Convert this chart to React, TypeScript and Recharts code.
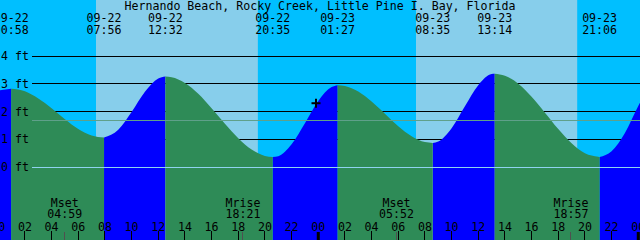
import React from "react";
import { ComposedChart, Area, XAxis, YAxis, ReferenceArea, ReferenceLine, ReferenceDot } from "recharts";

const TITLE = "Hernando Beach, Rocky Creek, Little Pine I. Bay, Florida";

// hours counted from 09-22 00:00, heights in ft
const TIDE_HOURS = [
  0, 0.967, 2, 3, 4, 5, 6, 7, 7.933, 9, 10, 11, 12, 12.533, 13, 14, 15, 16, 17, 18, 19, 20, 20.583,
  21, 22, 23, 24, 25, 25.45, 26, 27, 28, 29, 30, 31, 32, 32.583, 33, 34, 35, 36, 37, 37.233,
  38, 39, 40, 41, 42, 43, 44, 45, 45.1, 46, 47, 48, 48.2,
];
const TIDE_FT = [
  2.76, 2.82, 2.73, 2.47, 2.12, 1.72, 1.37, 1.14, 1.06, 1.34, 1.98, 2.71, 3.19, 3.26, 3.24, 3.03, 2.64, 2.12, 1.56, 1.04, 0.63, 0.4, 0.36,
  0.39, 0.82, 1.58, 2.38, 2.88, 2.95, 2.92, 2.72, 2.36, 1.92, 1.47, 1.11, 0.9, 0.87, 0.92, 1.4, 2.19, 2.95, 3.35, 3.36,
  3.29, 3.0, 2.53, 1.96, 1.37, 0.86, 0.5, 0.37, 0.36, 0.57, 1.23, 2.2, 2.38,
];

const EVENT_HOURS = [0.967, 7.933, 12.533, 20.583, 25.45, 32.583, 37.233, 45.1];
const EVENT_KIND = ["high", "low", "high", "low", "high", "low", "high", "low"];
const EVENT_DATES = ["09-22", "09-22", "09-22", "09-22", "09-23", "09-23", "09-23", "09-23"];
const EVENT_TIMES = ["00:58", "07:56", "12:32", "20:35", "01:27", "08:35", "13:14", "21:06"];

const MOON_HOURS = [4.983, 18.35, 29.867, 42.95];
const MOON_LABELS = ["Mset", "Mrise", "Mset", "Mrise"];
const MOON_TIMES = ["04:59", "18:21", "05:52", "18:57"];

const SUNRISE = [7.33, 31.33];
const SUNSET = [19.47, 43.42];

const HOUR_TICKS = [0, 2, 4, 6, 8, 10, 12, 14, 16, 18, 20, 22, 24, 26, 28, 30, 32, 34, 36, 38, 40, 42, 44, 46, 48];
const FT_TICKS = [0, 1, 2, 3, 4];
const MSL_FT = 1.68;
const NOW_HOUR = 23.83;
const NOW_FT = 2.3;

const X_DOMAIN = [0.13, 48.13];
const Y_DOMAIN = [-2.63, 6.02];

const FONT = "'DejaVu Sans Mono', monospace";
const FS = 11.6;
const GUTTER = 32;

const rows = TIDE_HOURS.map((h, i) => {
  const ft = TIDE_FT[i];
  const atEvent = EVENT_HOURS.includes(h);
  const k = EVENT_HOURS.filter((e) => e < h).length;
  const next = EVENT_KIND[k] ?? (EVENT_KIND[k - 1] === "high" ? "low" : "high");
  const rising = next === "high";
  return { h, ft, rise: atEvent || rising ? ft : null, fall: atEvent || !rising ? ft : null };
});

const txt = { fontFamily: FONT, fontSize: FS, fill: "#000" };

const HourTick = ({ x, payload }: any) => {
  const h = payload.value;
  return (
    <g>
      <text x={x} y={230.5} textAnchor="middle" {...txt}>
        {String(h % 24).padStart(2, "0")}
      </text>
      {h % 24 === 0 ? (
        <rect x={x - 1.5} y={232} width={3} height={8} fill="#000" />
      ) : (
        <line x1={x} x2={x} y1={231} y2={240} stroke="#000" shapeRendering="crispEdges" />
      )}
    </g>
  );
};

const EventTick = ({ x, payload }: any) => {
  const i = EVENT_HOURS.indexOf(payload.value);
  return (
    <g>
      <text x={x} y={21.5} textAnchor="middle" {...txt}>{EVENT_DATES[i]}</text>
      <text x={x} y={34} textAnchor="middle" {...txt}>{EVENT_TIMES[i]}</text>
    </g>
  );
};

const MoonTick = ({ x, payload }: any) => {
  const i = MOON_HOURS.indexOf(payload.value);
  return (
    <g>
      <text x={x} y={206.5} textAnchor="middle" {...txt}>{MOON_LABELS[i]}</text>
      <text x={x} y={218} textAnchor="middle" {...txt}>{MOON_TIMES[i]}</text>
      <line x1={x} x2={x} y1={232} y2={240} stroke="#505050" shapeRendering="crispEdges" />
    </g>
  );
};

const FtTick = ({ y, payload }: any) => (
  <text x={1} y={y + 4} textAnchor="start" {...txt}>{`${payload.value} ft`}</text>
);

// thin horizontal rule drawn from a (very flat) reference band, so it sits under the water
const bandLine = (color: string) => (p: any) => (
  <line x1={p.x + GUTTER} x2={p.x + p.width} y1={p.y + p.height / 2} y2={p.y + p.height / 2}
    stroke={color} strokeWidth={1} shapeRendering="crispEdges" />
);

const gutterLine = (color: string) => (p: any) => (
  <line x1={p.x1 + GUTTER} y1={p.y1} x2={p.x2} y2={p.y2} stroke={color} strokeWidth={1} shapeRendering="crispEdges" />
);

const Cross = (p: any) => (
  <g stroke="#000" strokeWidth={2}>
    <line x1={p.cx - 4.5} x2={p.cx + 4.5} y1={p.cy} y2={p.cy} />
    <line x1={p.cx} x2={p.cx} y1={p.cy - 4.5} y2={p.cy + 4.5} />
  </g>
);

export default function App() {
  return (
    <div style={{ position: "absolute", left: 0, top: 0, width: 640, height: 240, background: "#00BFFF", overflow: "hidden" }}>
      <ComposedChart width={640} height={240} data={rows} margin={{ top: 0, right: 0, bottom: 0, left: 0 }}>
        <XAxis dataKey="h" type="number" domain={X_DOMAIN} allowDataOverflow ticks={HOUR_TICKS} interval={0}
          mirror axisLine={false} tickLine={false} tick={HourTick} />
        <XAxis xAxisId="top" dataKey="h" orientation="top" type="number" domain={X_DOMAIN} allowDataOverflow
          ticks={EVENT_HOURS} interval={0} mirror axisLine={false} tickLine={false} tick={EventTick} />
        <XAxis xAxisId="moon" dataKey="h" type="number" domain={X_DOMAIN} allowDataOverflow ticks={MOON_HOURS}
          interval={0} mirror axisLine={false} tickLine={false} tick={MoonTick} />
        <YAxis type="number" domain={Y_DOMAIN} allowDataOverflow ticks={FT_TICKS} interval={0} mirror
          axisLine={false} tickLine={false} tick={FtTick} />
        {SUNRISE.map((s, i) => (
          <ReferenceArea key={`day${i}`} x1={s} x2={SUNSET[i]} fill="#87CEEB" fillOpacity={1} stroke="none" />
        ))}
        {FT_TICKS.slice(1).map((v) => (
          <ReferenceArea key={`g${v}`} y1={v - 0.01} y2={v + 0.01} shape={bandLine("#000")} />
        ))}
        <Area dataKey="rise" type="monotone" fill="#0000FF" fillOpacity={1} stroke="none" baseValue="dataMin"
          connectNulls={false} isAnimationActive={false} />
        <Area dataKey="fall" type="monotone" fill="#2E8B57" fillOpacity={1} stroke="none" baseValue="dataMin"
          connectNulls={false} isAnimationActive={false} />
        <ReferenceLine y={0} shape={gutterLine("#8FD3F0")} />
        <ReferenceLine y={MSL_FT} shape={gutterLine("#5FA08A")} />
        <ReferenceDot x={NOW_HOUR} y={NOW_FT} shape={Cross} />
      </ComposedChart>
      <svg width={640} height={240} style={{ position: "absolute", left: 0, top: 0, pointerEvents: "none" }}>
        <text x={320} y={9.5} textAnchor="middle" {...txt}>{TITLE}</text>
      </svg>
    </div>
  );
}
